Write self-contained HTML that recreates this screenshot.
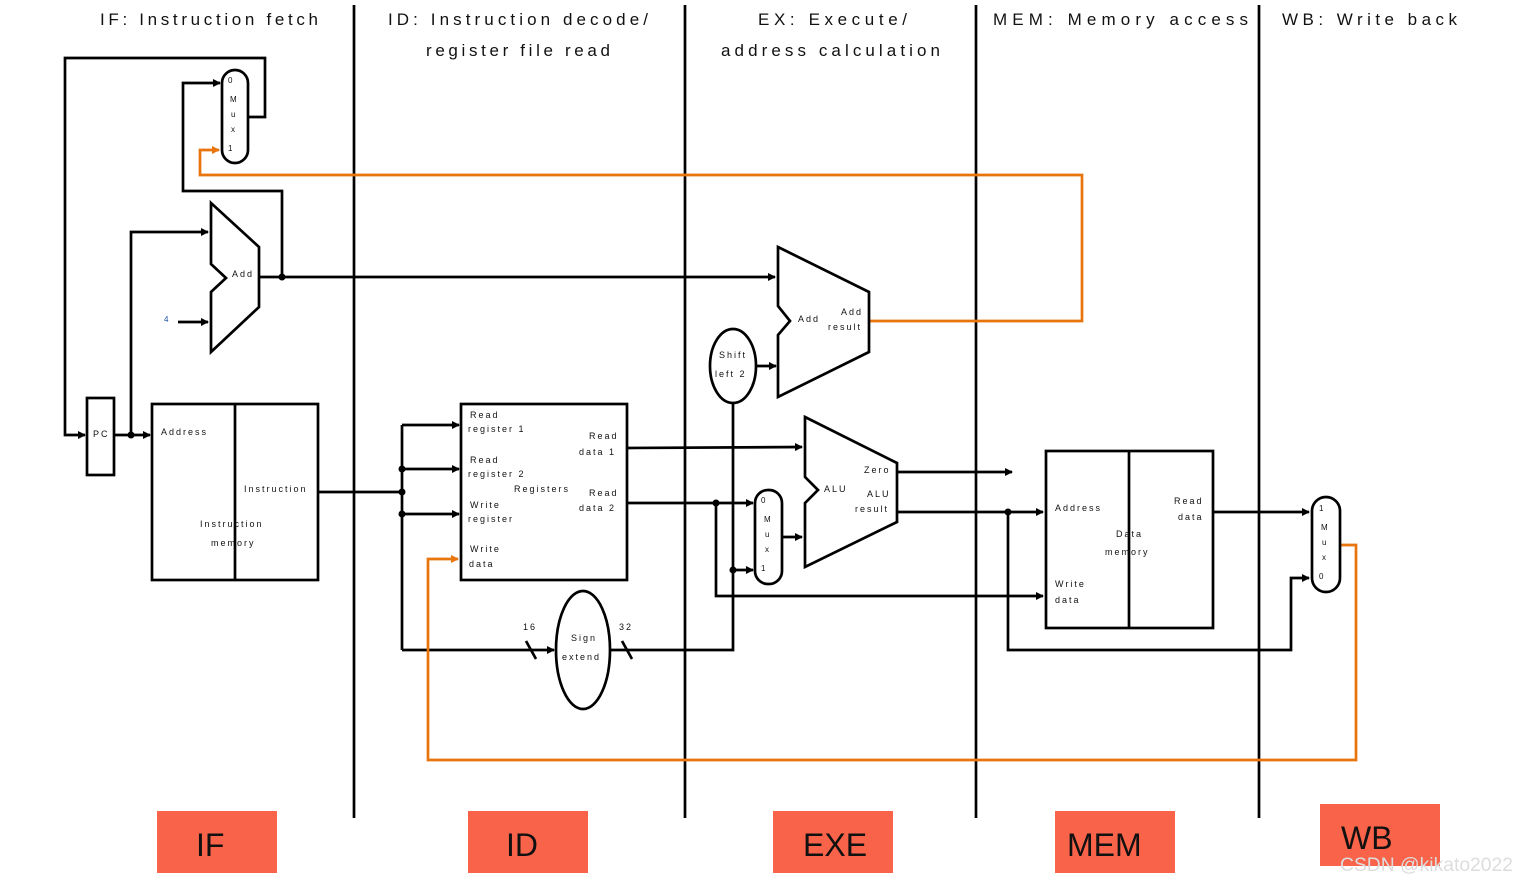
<!DOCTYPE html>
<html><head><meta charset="utf-8"><style>
html,body{margin:0;padding:0;background:#fff;}
svg{display:block;font-family:"Liberation Sans",Arial,sans-serif;}
.t{font-size:17px;fill:#111;}
.s{font-size:9px;fill:#111;letter-spacing:2px;}
.w{fill:none;stroke:#000;stroke-width:2.7;}
.o{fill:none;stroke:#E8740C;stroke-width:2.7;}
.b{fill:#fff;stroke:#000;stroke-width:2.7;}
.big{font-size:32px;fill:#111;}
</style></head><body>
<svg width="1528" height="882" viewBox="0 0 1528 882">
<defs>
<marker id="a" markerWidth="8" markerHeight="8" refX="7" refY="4" orient="auto" markerUnits="userSpaceOnUse"><path d="M0,0 L8,4 L0,8z" fill="#000"/></marker>
<marker id="ao" markerWidth="8" markerHeight="8" refX="7" refY="4" orient="auto" markerUnits="userSpaceOnUse"><path d="M0,0 L8,4 L0,8z" fill="#E8740C"/></marker>
</defs>
<g stroke="#000" stroke-width="2.7">
<line x1="354" y1="5" x2="354" y2="818"/><line x1="685" y1="5" x2="685" y2="818"/>
<line x1="976" y1="5" x2="976" y2="818"/><line x1="1259" y1="5" x2="1259" y2="818"/>
</g>
<text class="t" x="100" y="25" textLength="218" lengthAdjust="spacing">IF: Instruction fetch</text>
<text class="t" x="388" y="25" textLength="260" lengthAdjust="spacing">ID: Instruction decode/</text>
<text class="t" x="426" y="56" textLength="184" lengthAdjust="spacing">register file read</text>
<text class="t" x="758" y="25" textLength="149" lengthAdjust="spacing">EX: Execute/</text>
<text class="t" x="721" y="56" textLength="219" lengthAdjust="spacing">address calculation</text>
<text class="t" x="993" y="25" textLength="255" lengthAdjust="spacing">MEM: Memory access</text>
<text class="t" x="1282" y="25" textLength="175" lengthAdjust="spacing">WB: Write back</text>

<polyline class="w" points="248,117 265,117 265,58 65,58 65,435 85,435" marker-end="url(#a)"/>
<polyline class="w" points="282,277 282,191 183,191 183,83 220,83" marker-end="url(#a)"/>
<polyline class="o" points="869,321 1082,321 1082,175 200,175 200,150 219,150" marker-end="url(#ao)"/>
<rect class="b" x="222" y="70" width="26" height="93" rx="13"/>
<g class="s" style="font-size:8px;letter-spacing:0">
<text x="228" y="83">0</text><text x="230" y="102">M</text><text x="231" y="117">u</text><text x="231" y="132">x</text><text x="228" y="151">1</text>
</g>
<polygon class="b" points="211,203 259,247 259,307 211,352 211,292 226,278 211,264"/>
<text class="s" x="232" y="277">Add</text>
<polyline class="w" points="131,435 131,232 208,232" marker-end="url(#a)"/>
<line class="w" x1="178" y1="322" x2="208" y2="322" marker-end="url(#a)"/>
<text x="164" y="322" style="font-size:8px;fill:#1a4fa0">4</text>
<line class="w" x1="259" y1="277" x2="775" y2="277" marker-end="url(#a)"/>
<circle cx="282" cy="277" r="3.5"/>
<rect class="b" x="87" y="398" width="27" height="77"/>
<text class="s" x="93" y="437">PC</text>
<line class="w" x1="114" y1="435" x2="150" y2="435" marker-end="url(#a)"/>
<circle cx="131" cy="435" r="3.5"/>
<rect class="b" x="152" y="404" width="166" height="176"/>
<line class="w" x1="235" y1="404" x2="235" y2="580"/>
<text class="s" x="161" y="435">Address</text>
<text class="s" x="244" y="492">Instruction</text>
<text class="s" x="200" y="527">Instruction</text>
<text class="s" x="211" y="546">memory</text>
<line class="w" x1="318" y1="492" x2="402" y2="492"/>
<line class="w" x1="402" y1="425" x2="402" y2="650"/>
<line class="w" x1="402" y1="425" x2="459" y2="425" marker-end="url(#a)"/>
<line class="w" x1="402" y1="469" x2="459" y2="469" marker-end="url(#a)"/>
<line class="w" x1="402" y1="514" x2="459" y2="514" marker-end="url(#a)"/>
<line class="w" x1="402" y1="650" x2="554" y2="650" marker-end="url(#a)"/>
<circle cx="402" cy="469" r="3.5"/><circle cx="402" cy="492" r="3.5"/><circle cx="402" cy="514" r="3.5"/>
<line class="w" x1="526" y1="641" x2="536" y2="659"/>
<line class="w" x1="622" y1="641" x2="632" y2="659"/>
<text class="s" x="523" y="630">16</text><text class="s" x="619" y="630">32</text>
<rect class="b" x="461" y="404" width="166" height="176"/>
<g class="s">
<text x="470" y="418">Read</text><text x="468" y="432">register 1</text>
<text x="470" y="463">Read</text><text x="468" y="477">register 2</text>
<text x="514" y="492">Registers</text>
<text x="470" y="508">Write</text><text x="468" y="522">register</text>
<text x="470" y="552">Write</text><text x="469" y="567">data</text>
<text x="589" y="439">Read</text><text x="579" y="455">data 1</text>
<text x="589" y="496">Read</text><text x="579" y="511">data 2</text>
</g>
<polyline class="o" points="1340,545 1356,545 1356,760 428,760 428,559 458,559" marker-end="url(#ao)"/>
<ellipse class="b" cx="583" cy="650" rx="27" ry="59"/>
<text class="s" x="571" y="641">Sign</text><text class="s" x="562" y="660">extend</text>
<polyline class="w" points="610,650 733,650 733,403"/>
<line class="w" x1="733" y1="570" x2="753" y2="570" marker-end="url(#a)"/>
<circle cx="733" cy="570" r="3.5"/>
<line class="w" x1="627" y1="448" x2="802" y2="447" marker-end="url(#a)"/>
<line class="w" x1="627" y1="503" x2="753" y2="503" marker-end="url(#a)"/>
<polyline class="w" points="716,503 716,596 1043,596" marker-end="url(#a)"/>
<circle cx="716" cy="503" r="3.5"/>
<ellipse class="b" cx="733" cy="366" rx="23" ry="37"/>
<text class="s" x="719" y="358">Shift</text><text class="s" x="715" y="377">left 2</text>
<line class="w" x1="756" y1="366" x2="776" y2="366" marker-end="url(#a)"/>
<polygon class="b" points="778,247 869,292 869,352 778,397 778,335 790,321 778,306"/>
<g class="s"><text x="798" y="322">Add</text><text x="841" y="315">Add</text><text x="828" y="330">result</text></g>
<polygon class="b" points="805,417 897,463 897,522 805,567 805,503 818,490 805,477"/>
<g class="s"><text x="864" y="473">Zero</text><text x="824" y="492">ALU</text><text x="867" y="497">ALU</text><text x="855" y="512">result</text></g>
<rect class="b" x="755" y="490" width="27" height="94" rx="13"/>
<g class="s" style="font-size:8px;letter-spacing:0">
<text x="761" y="503">0</text><text x="764" y="522">M</text><text x="765" y="537">u</text><text x="765" y="552">x</text><text x="761" y="571">1</text>
</g>
<line class="w" x1="782" y1="537" x2="802" y2="537" marker-end="url(#a)"/>
<line class="w" x1="897" y1="472" x2="1012" y2="472" marker-end="url(#a)"/>
<line class="w" x1="897" y1="512" x2="1043" y2="512" marker-end="url(#a)"/>
<polyline class="w" points="1008,512 1008,650 1291,650 1291,578 1309,578" marker-end="url(#a)"/>
<circle cx="1008" cy="512" r="3.5"/>
<rect class="b" x="1046" y="451" width="167" height="177"/>
<line class="w" x1="1129" y1="451" x2="1129" y2="628"/>
<g class="s">
<text x="1055" y="511">Address</text>
<text x="1174" y="504">Read</text><text x="1178" y="520">data</text>
<text x="1116" y="537">Data</text><text x="1105" y="555">memory</text>
<text x="1055" y="587">Write</text><text x="1055" y="603">data</text>
</g>
<line class="w" x1="1213" y1="512" x2="1309" y2="512" marker-end="url(#a)"/>
<rect class="b" x="1312" y="497" width="28" height="95" rx="14"/>
<g class="s" style="font-size:8px;letter-spacing:0">
<text x="1319" y="511">1</text><text x="1321" y="530">M</text><text x="1322" y="545">u</text><text x="1322" y="560">x</text><text x="1319" y="579">0</text>
</g>
<g fill="#F9634A">
<rect x="157" y="811" width="120" height="62"/><rect x="468" y="811" width="120" height="62"/>
<rect x="773" y="811" width="120" height="62"/><rect x="1055" y="811" width="120" height="62"/>
<rect x="1320" y="804" width="120" height="62"/>
</g>
<text class="big" x="196" y="856">IF</text>
<text class="big" x="506" y="856">ID</text>
<text class="big" x="803" y="856">EXE</text>
<text class="big" x="1067" y="856">MEM</text>
<text class="big" x="1341" y="849">WB</text>
<text x="1340" y="871" style="font-size:19px;fill:#ddd" textLength="173" lengthAdjust="spacingAndGlyphs">CSDN @kikato2022</text>
</svg>
</body></html>
